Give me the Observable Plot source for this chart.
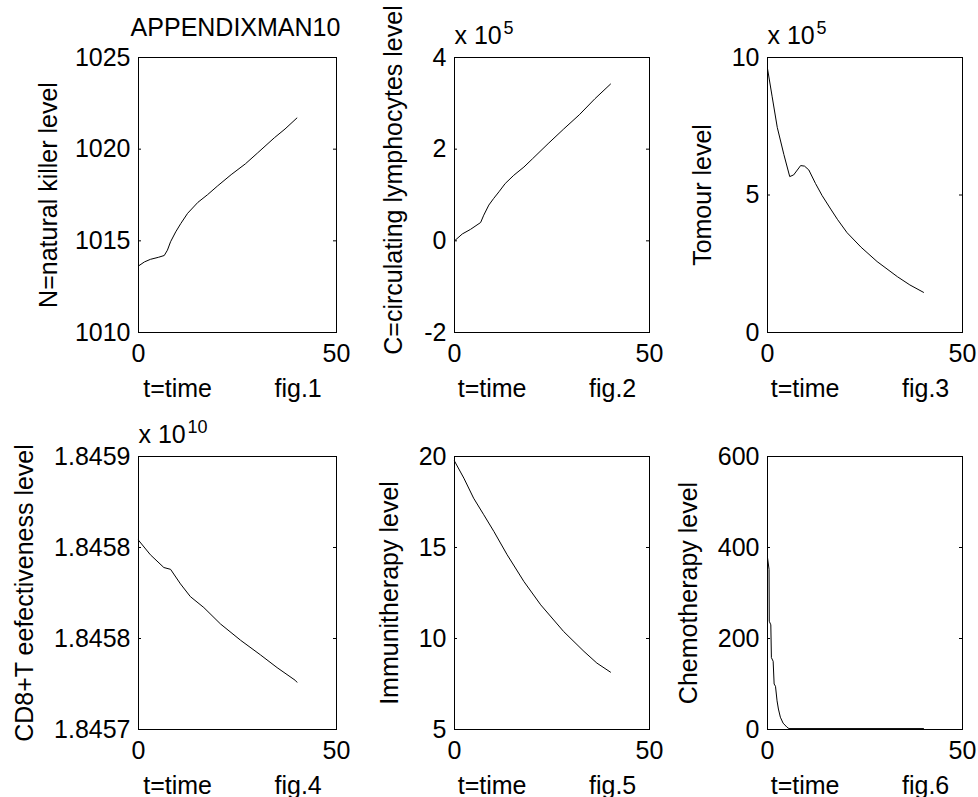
<!DOCTYPE html>
<html>
<head>
<meta charset="utf-8">
<script src="https://cdn.jsdelivr.net/npm/d3@7"></script>
<script src="https://cdn.jsdelivr.net/npm/@observablehq/plot@0.6"></script>
<style>
  html, body { margin: 0; padding: 0; background: #fff; }
  #fig { position: relative; width: 978px; height: 797px; background: #fff; overflow: hidden; }
  #fig > svg { position: absolute; }
</style>
</head>
<body>
<div id="fig"></div>
<script>
// ---------- data ----------
const figTitle = "APPENDIXMAN10";
const xTicks = [0, 50];
const xLabels = ["t=time", "t=time", "t=time", "t=time", "t=time", "t=time"];
const figLabels = ["fig.1", "fig.2", "fig.3", "fig.4", "fig.5", "fig.6"];
const yLabels = [
  "N=natural killer level",
  "C=circulating lymphocytes level",
  "Tomour level",
  "CD8+T eefectiveness level",
  "Immunitherapy level",
  "Chemotherapy level"
];

// fig.1  N(t)
const nT = [0, 1.5, 3, 5, 6.5, 7.3, 8.1, 9.4, 10.7, 12.4, 15, 17.4, 20, 23.4, 27, 30.1, 34.3, 37, 40];
const nV = [1013.63, 1013.85, 1013.99, 1014.1, 1014.2, 1014.49, 1014.95, 1015.49, 1015.95, 1016.5, 1017.1, 1017.51, 1018.0, 1018.61, 1019.2, 1019.8, 1020.62, 1021.1, 1021.7];
const nYTicks = [1010, 1015, 1020, 1025];
const nYTickLabels = ["1010", "1015", "1020", "1025"];

// fig.2  C(t)  (x 10^5)
const cT = [0, 2, 4.1, 6.7, 7.5, 8.8, 10, 11.4, 13, 15.2, 17.8, 20, 24, 28, 32, 36, 40];
const cV = [0, 0.15, 0.25, 0.40, 0.56, 0.78, 0.92, 1.07, 1.25, 1.43, 1.61, 1.79, 2.12, 2.44, 2.75, 3.1, 3.42];
const cYTicks = [-2, 0, 2, 4];
const cYTickLabels = ["-2", "0", "2", "4"];

// fig.3  T(t)  (x 10^5)
const tT = [0, 1.2, 2.5, 4.2, 5.7, 6.7, 8.5, 9.5, 10.6, 12.3, 14, 16.2, 18, 20.4, 24, 28.1, 33.3, 36.5, 40];
const tV = [9.6, 8.57, 7.46, 6.47, 5.67, 5.73, 6.07, 6.05, 5.91, 5.42, 4.98, 4.49, 4.1, 3.63, 3.1, 2.58, 2.03, 1.73, 1.46];
const tYTicks = [0, 5, 10];
const tYTickLabels = ["0", "5", "10"];

// fig.4  CD8+T (x 10^10)
const dT = [0, 3, 6.4, 8.1, 10.6, 13.1, 16.5, 20.7, 25.8, 30.8, 35, 39.6, 40];
const dV = [1.845844, 1.845836, 1.845829, 1.845828, 1.845820, 1.845813, 1.845807, 1.845798, 1.845789, 1.845781, 1.845774, 1.845767, 1.845766];
const dYTicks = [1.84574, 1.84579, 1.84584, 1.84589];
const dYTickLabels = ["1.8457", "1.8458", "1.8458", "1.8459"];

// fig.5  Immunotherapy
const iT = [0, 2.4, 4.9, 7.5, 10.1, 13.5, 17.8, 22.1, 28, 33.2, 36.5, 40];
const iV = [19.75, 18.81, 17.71, 16.8, 15.88, 14.6, 13.13, 11.85, 10.38, 9.29, 8.65, 8.15];
const iYTicks = [5, 10, 15, 20];
const iYTickLabels = ["5", "10", "15", "20"];

// fig.6  Chemotherapy
const mT = [0, 0.4, 0.45, 0.85, 1.0, 1.45, 1.7, 2.05, 2.45, 2.8, 3.3, 4.0, 5.0, 5.5, 40];
const mV = [378, 352, 238, 230, 158, 150, 100, 95, 63, 45, 27, 14, 5, 2, 2];
const mYTicks = [0, 200, 400, 600];
const mYTickLabels = ["0", "200", "400", "600"];

const exponents = [null, "5", "5", "10", null, null];

// ---------- layout ----------
const FONT = "'Liberation Sans', Arial, Helvetica, sans-serif";
const FS = 25;
const cols = [
  {left: 0, width: 346, ml: 138, mr: 10},
  {left: 346, width: 314, ml: 108, mr: 11},
  {left: 660, width: 318, ml: 107, mr: 16}
];
const rows = [
  {top: 0, height: 400, mt: 57, mb: 68},
  {top: 400, height: 397, mt: 56, mb: 68}
];
const ylabDx = [-82, -53, -57, -106, -57, -71];
const ylabDy = [0, -15, 0, 0, 0, 0];

const panels = [
  {t: nT, v: nV, ticks: nYTicks, labels: nYTickLabels},
  {t: cT, v: cV, ticks: cYTicks, labels: cYTickLabels},
  {t: tT, v: tV, ticks: tYTicks, labels: tYTickLabels},
  {t: dT, v: dV, ticks: dYTicks, labels: dYTickLabels},
  {t: iT, v: iV, ticks: iYTicks, labels: iYTickLabels},
  {t: mT, v: mV, ticks: mYTicks, labels: mYTickLabels}
];

const fig = document.getElementById("fig");
const NB = "\u00a0";

panels.forEach((p, i) => {
  const col = cols[i % 3], row = rows[Math.floor(i / 3)];
  const fw = col.width - col.ml - col.mr;
  const data = p.t.map((t, k) => ({t, v: p.v[k]}));
  const yDomain = [p.ticks[0], p.ticks[p.ticks.length - 1]];
  const labelOf = new Map(p.ticks.map((d, k) => [d, p.labels[k]]));
  const marks = [
    Plot.line(data, {x: "t", y: "v", stroke: "#000", strokeWidth: 1}),
    Plot.tickY(p.ticks, {y: d => d, insetRight: fw - 3, stroke: "#000"}),
    Plot.tickY(p.ticks, {y: d => d, insetLeft: fw - 3, stroke: "#000"}),
    Plot.frame({stroke: "#000", strokeWidth: 1}),
    Plot.axisX({ticks: xTicks, tickSize: 0, tickPadding: 12, label: null, tickFormat: d => String(d)}),
    Plot.axisY({ticks: p.ticks, tickSize: 0, tickPadding: 8, label: null, tickFormat: d => labelOf.get(d)}),
    Plot.text([yLabels[i]], {text: d => d, frameAnchor: "left", rotate: -90, dx: ylabDx[i], dy: ylabDy[i], lineAnchor: "bottom", textAnchor: "middle", fill: "#000"}),
    Plot.text([xLabels[i] + NB.repeat(9) + figLabels[i]], {text: d => d, frameAnchor: "bottom", dx: -5, dy: 64, lineAnchor: "bottom", textAnchor: "middle", fill: "#000"})
  ];
  if (i === 0) {
    marks.push(Plot.text([figTitle], {text: d => d, frameAnchor: "top", dx: -2, dy: -22, lineAnchor: "bottom", textAnchor: "middle", fill: "#000"}));
  }
  if (exponents[i]) {
    marks.push(Plot.text(["x 10"], {text: d => d, frameAnchor: "top-left", dy: -14, lineAnchor: "bottom", textAnchor: "start", fill: "#000"}));
    marks.push(Plot.text([exponents[i]], {text: d => d, frameAnchor: "top-left", dx: 49, dy: -24, lineAnchor: "bottom", textAnchor: "start", fontSize: 18, fill: "#000"}));
  }
  const svg = Plot.plot({
    width: col.width,
    height: row.height,
    marginLeft: col.ml,
    marginRight: col.mr,
    marginTop: row.mt,
    marginBottom: row.mb,
    x: {domain: [0, 50]},
    y: {domain: yDomain},
    style: {fontFamily: FONT, fontSize: FS + "px", color: "#000", background: "transparent", overflow: "visible"},
    marks
  });
  svg.style.left = col.left + "px";
  svg.style.top = row.top + "px";
  fig.appendChild(svg);
});
</script>
</body>
</html>
